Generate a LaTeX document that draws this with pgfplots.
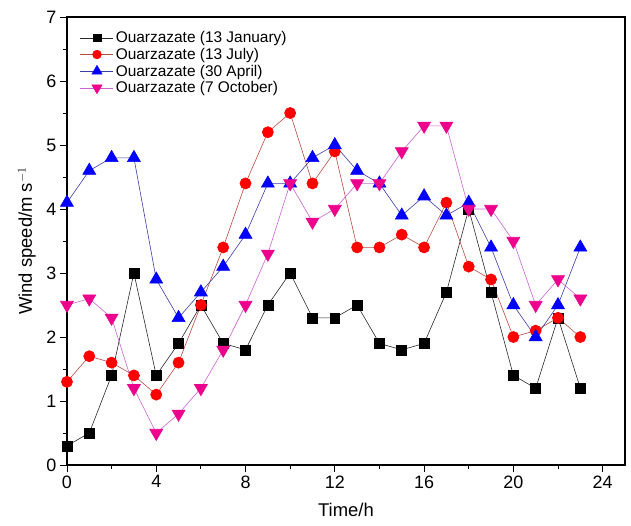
\documentclass[border=0pt]{standalone}
\usepackage{fontspec}
\setmainfont{Liberation Sans}
\usepackage{pgfplots}
\pgfplotsset{compat=1.18}
\definecolor{jline}{RGB}{40,40,40}
\definecolor{rline}{RGB}{185,75,65}
\definecolor{bline}{RGB}{60,60,170}
\definecolor{mline}{RGB}{200,100,210}
\begin{document}
\begin{tikzpicture}
\begin{axis}[
    scale only axis, width=558bp, height=448bp,
    xmin=0, xmax=25, ymin=0, ymax=7,
    xtick={0,4,...,24}, ytick={0,1,...,7},
    minor xtick={2,6,...,22}, minor ytick={0.5,1.5,...,6.5},
    tick pos=left, tick align=outside,
    major tick length=7bp, minor tick length=4bp,
    axis line style={line width=1.2pt},
    tick style={line width=0.8pt, black},
    /pgf/number format/assume math mode=true,
    tick label style={font=\fontsize{18}{20}\selectfont},
    xlabel={Time/h}, ylabel={Wind speed/m s$^{-1}$},
    label style={font=\fontsize{18.5}{21}\selectfont},
    xlabel style={at={(axis description cs:0.5,-0.10)}, anchor=center},
    ylabel style={at={(axis description cs:-0.072,0.5)}, anchor=center},
    legend style={draw=none, fill=none, at={(0.018,0.977)}, anchor=north west,
      font=\fontsize{15.5}{18.5}\selectfont, row sep=0bp},
    legend cell align=left,
    legend image code/.code={\draw[mark repeat=2, mark phase=2, mark size=0.78*\pgfplotmarksize]
      plot coordinates {(0bp,0bp) (16.5bp,0bp) (33bp,0bp)};},
    every axis plot/.append style={line width=0.6pt},
]
\addplot[jline, mark=square*, mark size=5pt, mark options={black}] coordinates {
(0,0.3) (1,0.5) (2,1.4) (3,3.0) (4,1.4) (5,1.9) (6,2.5) (7,1.9) (8,1.8) (9,2.5) (10,3.0) (11,2.3)
(12,2.3) (13,2.5) (14,1.9) (15,1.8) (16,1.9) (17,2.7) (18,4.0) (19,2.7) (20,1.4) (21,1.2) (22,2.3) (23,1.2)};
\addlegendentry{Ouarzazate (13 January)}
\addplot[rline, mark=*, mark size=5.6pt, mark options={red, draw=red}] coordinates {
(0,1.3) (1,1.7) (2,1.6) (3,1.4) (4,1.1) (5,1.6) (6,2.5) (7,3.4) (8,4.4) (9,5.2) (10,5.5) (11,4.4)
(12,4.9) (13,3.4) (14,3.4) (15,3.6) (16,3.4) (17,4.1) (18,3.1) (19,2.9) (20,2.0) (21,2.1) (22,2.3) (23,2.0)};
\addlegendentry{Ouarzazate (13 July)}
\addplot[bline, mark=triangle*, mark size=7.5pt, mark options={blue, draw=blue}] coordinates {
(0,4.1) (1,4.6) (2,4.8) (3,4.8) (4,2.9) (5,2.3) (6,2.7) (7,3.1) (8,3.6) (9,4.4) (10,4.4) (11,4.8)
(12,5.0) (13,4.6) (14,4.4) (15,3.9) (16,4.2) (17,3.9) (18,4.1) (19,3.4) (20,2.5) (21,2.0) (22,2.5) (23,3.4)};
\addlegendentry{Ouarzazate (30 April)}
\addplot[mline, mark=triangle*, mark size=7.5pt, mark options={magenta, draw=magenta, rotate=180}] coordinates {
(0,2.5) (1,2.6) (2,2.3) (3,1.2) (4,0.5) (5,0.8) (6,1.2) (7,1.8) (8,2.5) (9,3.3) (10,4.4) (11,3.8)
(12,4.0) (13,4.4) (14,4.4) (15,4.9) (16,5.3) (17,5.3) (18,4.0) (19,4.0) (20,3.5) (21,2.5) (22,2.9) (23,2.6)};
\addlegendentry{Ouarzazate (7 October)}
\coordinate (bl) at (axis description cs:-0.120,-0.134);
\coordinate (tr) at (axis description cs:1.0108,1.038);
\end{axis}
\pgfresetboundingbox
\path[use as bounding box] (bl) rectangle (tr);
\end{tikzpicture}
\end{document}
